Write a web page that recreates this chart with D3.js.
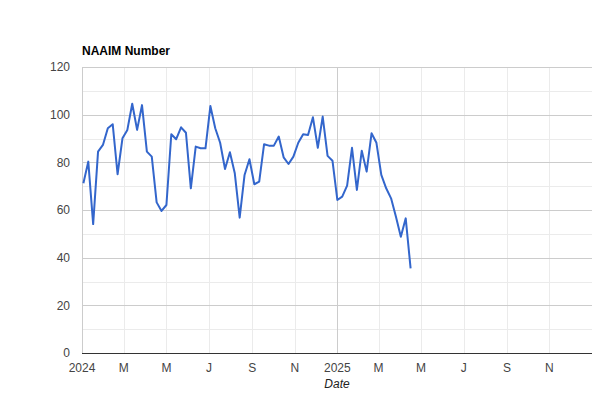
<!DOCTYPE html>
<html>
<head>
<meta charset="utf-8">
<script src="https://cdn.jsdelivr.net/npm/d3@7"></script>
<style>
  body { margin: 0; background: #fff; }
  svg text { font-family: Arial, "Liberation Sans", sans-serif; }
</style>
</head>
<body>
<svg id="chart" width="592" height="397"></svg>
<script>
// weekly readings (Wednesday)
var dates = [
  '2024-01-03','2024-01-10','2024-01-17','2024-01-24','2024-01-31',
  '2024-02-07','2024-02-14','2024-02-21','2024-02-28',
  '2024-03-06','2024-03-13','2024-03-20','2024-03-27',
  '2024-04-03','2024-04-10','2024-04-17','2024-04-24',
  '2024-05-01','2024-05-08','2024-05-15','2024-05-22','2024-05-29',
  '2024-06-05','2024-06-12','2024-06-19','2024-06-26',
  '2024-07-03','2024-07-10','2024-07-17','2024-07-24','2024-07-31',
  '2024-08-07','2024-08-14','2024-08-21','2024-08-28',
  '2024-09-04','2024-09-11','2024-09-18','2024-09-25',
  '2024-10-02','2024-10-09','2024-10-16','2024-10-23','2024-10-30',
  '2024-11-06','2024-11-13','2024-11-20','2024-11-27',
  '2024-12-04','2024-12-11','2024-12-18','2024-12-25',
  '2025-01-01','2025-01-08','2025-01-15','2025-01-22','2025-01-29',
  '2025-02-05','2025-02-12','2025-02-19','2025-02-26',
  '2025-03-05','2025-03-12','2025-03-19','2025-03-26',
  '2025-04-02','2025-04-09','2025-04-16'
];
var naaim = [
  71.2, 80.3, 54.1, 84.5, 87.3,
  94.3, 96.0, 75.0, 90.1,
  93.6, 104.6, 93.6, 104.0,
  84.5, 82.4, 63.2, 59.6,
  62.1, 91.8, 89.7, 94.7, 92.4,
  69.1, 86.6, 85.9, 85.9,
  103.6, 94.3, 88.2, 77.2, 84.2,
  75.4, 56.8, 74.7, 81.3,
  70.8, 71.9, 87.6, 87.0,
  87.0, 90.8, 82.1, 79.3, 82.4,
  88.2, 91.8, 91.5, 98.9,
  86.1, 99.2, 82.7, 80.7,
  64.2, 65.6, 70.2, 86.1, 68.4,
  84.9, 76.1, 92.2, 88.2,
  74.7, 69.1, 64.9, 57.2,
  48.8, 56.5, 35.5
];
var yTicks = [0, 20, 40, 60, 80, 100, 120];
var yMinorTicks = [10, 30, 50, 70, 90, 110];
var xTickDates = ['2024-01-01','2024-03-01','2024-05-01','2024-07-01','2024-09-01','2024-11-01',
                  '2025-01-01','2025-03-01','2025-05-01','2025-07-01','2025-09-01','2025-11-01'];
var xTickLabels = ['2024','M','M','J','S','N','2025','M','M','J','S','N'];

var parse = d3.timeParse('%Y-%m-%d');
var data = dates.map(function(d, i) { return {date: parse(d), value: naaim[i]}; });

var svg = d3.select('#chart');
var padding = {t: 67, r: 0, b: 44, l: 82};
var chartWidth = 592 - padding.l - padding.r;
var chartHeight = 397 - padding.t - padding.b;

var chartG = svg.append('g')
    .attr('transform', 'translate(' + [padding.l, padding.t] + ')');

var xScale = d3.scaleTime()
    .domain([parse('2024-01-01'), parse('2026-01-01')])
    .range([0, chartWidth]);
var yScale = d3.scaleLinear().domain([0, 120]).range([chartHeight, 0]);

// horizontal gridlines
chartG.selectAll('.yminor').data(yMinorTicks).enter().append('line')
    .attr('x1', 0).attr('x2', chartWidth)
    .attr('y1', function(d) { return Math.round(yScale(d)) + 0.5; })
    .attr('y2', function(d) { return Math.round(yScale(d)) + 0.5; })
    .style('stroke', '#ebebeb');

// vertical gridlines
var xTicks = xTickDates.map(parse);
chartG.selectAll('.xgrid').data(xTicks).enter().append('line')
    .attr('x1', function(d) { return Math.round(xScale(d)) + 0.5; })
    .attr('x2', function(d) { return Math.round(xScale(d)) + 0.5; })
    .attr('y1', 0).attr('y2', chartHeight)
    .style('stroke', function(d) { return d.getMonth() === 0 ? '#cccccc' : '#ebebeb'; });

chartG.selectAll('.ymajor').data(yTicks.slice(1)).enter().append('line')
    .attr('x1', 0).attr('x2', chartWidth)
    .attr('y1', function(d) { return Math.round(yScale(d)) + 0.5; })
    .attr('y2', function(d) { return Math.round(yScale(d)) + 0.5; })
    .style('stroke', '#cccccc');

// y labels
chartG.selectAll('.ylab').data(yTicks).enter().append('text')
    .attr('x', -12)
    .attr('y', function(d) { return yScale(d); })
    .attr('dy', '0.35em')
    .attr('text-anchor', 'end')
    .style('font-size', '12px')
    .style('fill', '#444')
    .text(function(d) { return d; });

// x labels
chartG.selectAll('.xlab').data(xTicks).enter().append('text')
    .attr('x', function(d) { return xScale(d); })
    .attr('y', chartHeight + 19)
    .attr('text-anchor', 'middle')
    .style('font-size', '12px')
    .style('fill', '#444')
    .text(function(d, i) { return xTickLabels[i]; });

// line
var line = d3.line()
    .x(function(d) { return xScale(d.date); })
    .y(function(d) { return yScale(d.value); });

chartG.append('path')
    .datum(data)
    .attr('d', line)
    .style('fill', 'none')
    .style('stroke', '#3366cc')
    .style('stroke-width', 2)
    .style('stroke-linejoin', 'round');

// baseline
chartG.append('line')
    .attr('x1', 0).attr('x2', chartWidth)
    .attr('y1', Math.round(yScale(0)) + 0.5).attr('y2', Math.round(yScale(0)) + 0.5)
    .style('stroke', '#333');

// titles
svg.append('text')
    .attr('x', padding.l).attr('y', 55)
    .style('font-size', '12px')
    .style('font-weight', 'bold')
    .style('fill', '#000')
    .text('NAAIM Number');

svg.append('text')
    .attr('x', padding.l + chartWidth / 2).attr('y', 388)
    .attr('text-anchor', 'middle')
    .style('font-size', '12px')
    .style('font-style', 'italic')
    .style('fill', '#222')
    .text('Date');
</script>
</body>
</html>
